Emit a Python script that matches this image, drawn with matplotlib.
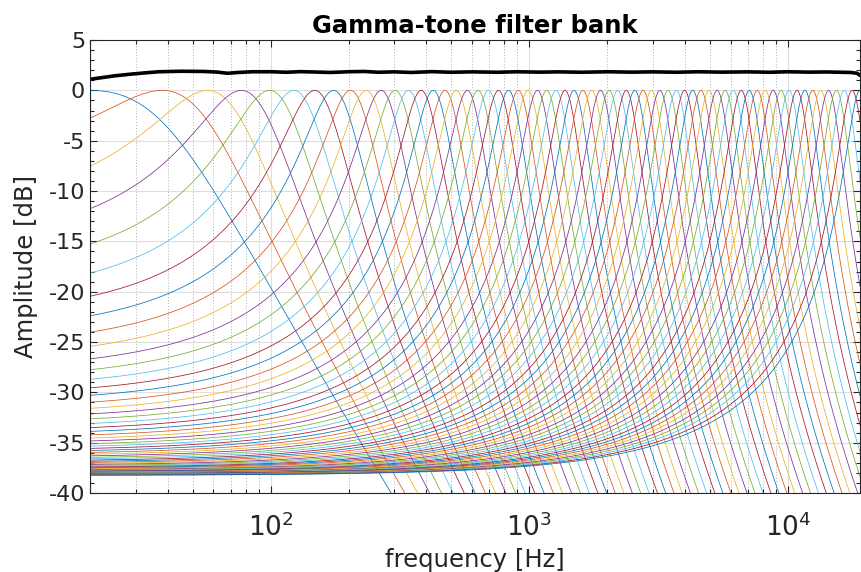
import numpy as np
import matplotlib
matplotlib.use("Agg")
import matplotlib.pyplot as plt
from matplotlib.ticker import LogLocator, MultipleLocator, NullFormatter

# centre frequencies of the 64 gammatone channels [Hz]
centre_freqs = [
    20, 38, 57, 77, 99, 123, 148, 175, 203.5, 234, 267.5, 303, 341, 382,
    425, 472, 522, 576, 633, 695, 760, 831, 907, 988, 1075, 1168, 1268,
    1375, 1489, 1612, 1744, 1885, 2036, 2197, 2371, 2557, 2755, 2969,
    3197, 3442, 3704, 3985, 4286, 4609, 4954, 5325, 5722, 6147, 6602,
    7090, 7613, 8174, 8774, 9417, 10106, 10844, 11636, 12483, 13391,
    14364, 15407, 16524, 17721, 19003,
]

# summed response of the bank (black trace)
sum_freqs = [20, 22, 25, 29, 33, 37, 45, 55, 62, 68, 75, 85, 100, 115,
             130, 150, 170, 200, 230, 260, 300, 350, 420, 500, 600, 750,
             900, 1100, 1300, 1600, 2000, 2500, 3000, 3700, 4500, 5500,
             7000, 8500, 10000, 12000, 14000, 16000, 17500, 18500, 19000]
sum_db = [1.1, 1.25, 1.45, 1.62, 1.75, 1.85, 1.9, 1.88, 1.82, 1.7, 1.78,
          1.85, 1.85, 1.8, 1.86, 1.82, 1.78, 1.85, 1.88, 1.8, 1.84, 1.78,
          1.86, 1.8, 1.84, 1.8, 1.85, 1.81, 1.84, 1.8, 1.85, 1.81, 1.84,
          1.8, 1.85, 1.81, 1.84, 1.8, 1.85, 1.81, 1.83, 1.8, 1.78, 1.7,
          1.5]

matlab_colors = ['#0072BD', '#D95319', '#EDB120', '#7E2F8E',
                 '#77AC30', '#4DBEEE', '#A2142F']

plt.rcParams['font.family'] = 'DejaVu Sans'
plt.rcParams['axes.unicode_minus'] = False
axis_color = '#262626'


def gammatone_db(f, fc):
    # magnitude of a gammatone channel with ERB-based bandwidth
    erb = 24.7 * (1 + 0.00437 * fc)
    b = 1.019 * erb
    return -20 * np.log10(1 + ((f - fc) / b) ** 2)


freq = np.logspace(np.log10(20), np.log10(19000), 4000)

fig = plt.figure(figsize=(8.61, 5.72), dpi=100)
ax = fig.add_axes([0.1045, 0.138, 0.8943, 0.792])

for i, fc in enumerate(centre_freqs):
    ax.plot(freq, gammatone_db(freq, fc),
            color=matlab_colors[i % len(matlab_colors)], lw=0.55)

ax.plot(sum_freqs, sum_db, color='black', lw=2.6)

ax.set_xscale('log')
ax.set_xlim(20, 19000)
ax.set_ylim(-40, 5)
ax.yaxis.set_major_locator(MultipleLocator(5))
ax.yaxis.set_minor_locator(MultipleLocator(1))
ax.xaxis.set_major_locator(LogLocator(base=10, numticks=10))
ax.xaxis.set_minor_locator(LogLocator(base=10, subs=np.arange(2, 10), numticks=20))
ax.xaxis.set_minor_formatter(NullFormatter())

ax.grid(True, which='major', color='#dedede', lw=0.8, ls='-')
ax.grid(True, which='minor', axis='x', color='#b0b0b0', lw=0.7, ls=(0, (1, 2)))
ax.set_axisbelow(True)

ax.tick_params(which='both', direction='in', top=True, right=True,
               colors=axis_color, labelsize=16, width=0.8)
ax.tick_params(axis='x', which='major', labelsize=19, pad=15)
ax.tick_params(which='major', length=5)
ax.tick_params(which='minor', length=3)
for sp in ax.spines.values():
    sp.set_color(axis_color)
    sp.set_linewidth(0.8)

ax.set_xlabel('frequency [Hz]', fontsize=17.5, color=axis_color, labelpad=4)
ax.set_ylabel('Amplitude [dB]', fontsize=17.5, color=axis_color, labelpad=8)
ax.set_title('Gamma-tone filter bank', fontsize=17.5, fontweight='bold',
             color='black', pad=5)

fig.savefig('out.png', dpi=100)
